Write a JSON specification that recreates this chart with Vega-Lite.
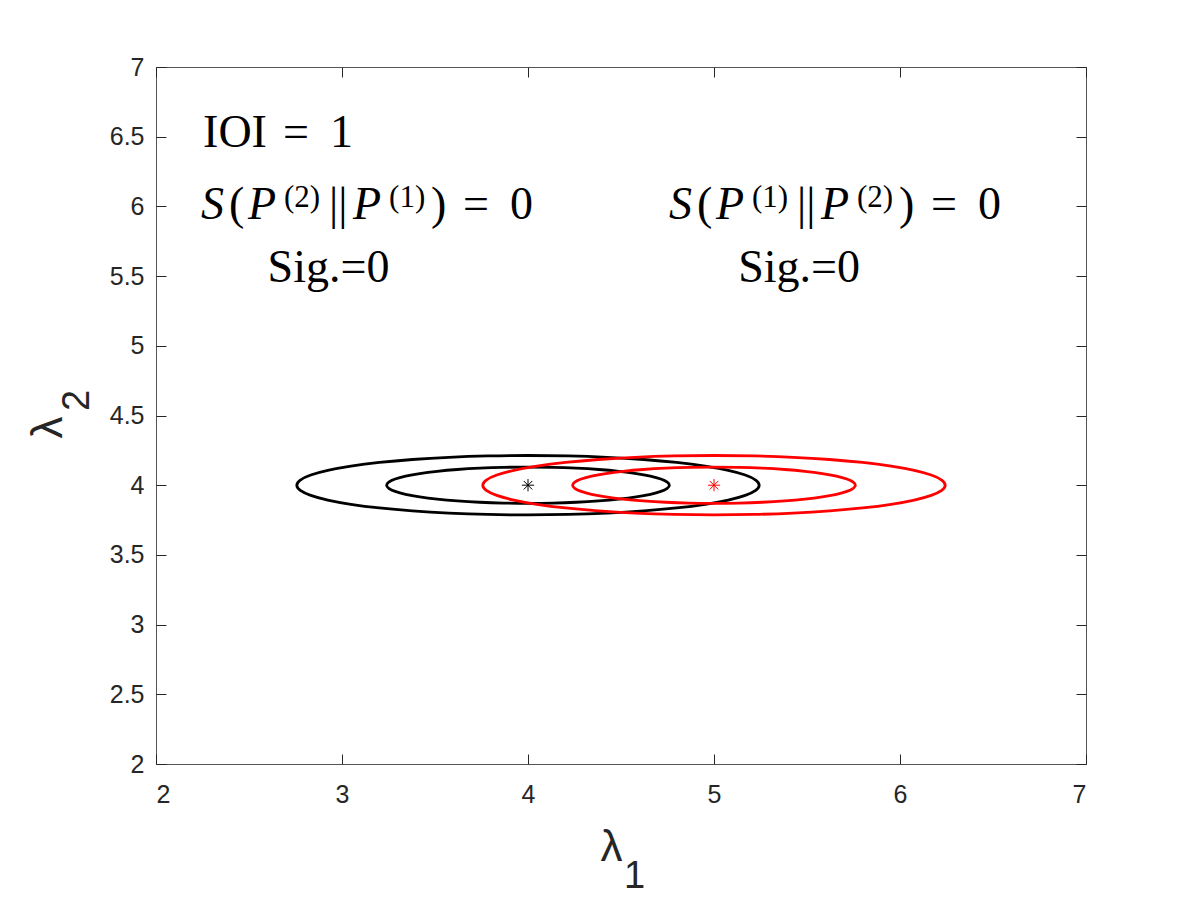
{
  "$schema": "https://vega.github.io/schema/vega-lite/v6.json",
  "autosize": "none",
  "width": 930,
  "height": 697,
  "padding": {"left": 156, "top": 67, "right": 114, "bottom": 136},
  "background": "white",
  "config": {
    "view": {"stroke": "#555555", "strokeWidth": 1},
    "axis": {"domain": false, "grid": false, "tickColor": "#262626", "tickWidth": 1, "labelColor": "#262626", "labelFont": "Liberation Sans", "labelFontSize": 25, "titleColor": "#262626", "titleFont": "Liberation Sans", "titleFontWeight": "normal"}
  },
  "resolve": {"axis": {"x": "independent", "y": "independent"}},
  "layer": [
    {
      "data": {"values": [
        {"e":"k1","c":"black","i":0,"x":5.243,"y":4},
        {"e":"k1","c":"black","i":1,"x":5.2241,"y":4.037},
        {"e":"k1","c":"black","i":2,"x":5.168,"y":4.0729},
        {"e":"k1","c":"black","i":3,"x":5.0765,"y":4.1065},
        {"e":"k1","c":"black","i":4,"x":4.9522,"y":4.1369},
        {"e":"k1","c":"black","i":5,"x":4.799,"y":4.1632},
        {"e":"k1","c":"black","i":6,"x":4.6215,"y":4.1845},
        {"e":"k1","c":"black","i":7,"x":4.4251,"y":4.2002},
        {"e":"k1","c":"black","i":8,"x":4.2158,"y":4.2098},
        {"e":"k1","c":"black","i":9,"x":4,"y":4.213},
        {"e":"k1","c":"black","i":10,"x":3.7842,"y":4.2098},
        {"e":"k1","c":"black","i":11,"x":3.5749,"y":4.2002},
        {"e":"k1","c":"black","i":12,"x":3.3785,"y":4.1845},
        {"e":"k1","c":"black","i":13,"x":3.201,"y":4.1632},
        {"e":"k1","c":"black","i":14,"x":3.0478,"y":4.1369},
        {"e":"k1","c":"black","i":15,"x":2.9235,"y":4.1065},
        {"e":"k1","c":"black","i":16,"x":2.832,"y":4.0729},
        {"e":"k1","c":"black","i":17,"x":2.7759,"y":4.037},
        {"e":"k1","c":"black","i":18,"x":2.757,"y":4},
        {"e":"k1","c":"black","i":19,"x":2.7759,"y":3.963},
        {"e":"k1","c":"black","i":20,"x":2.832,"y":3.9271},
        {"e":"k1","c":"black","i":21,"x":2.9235,"y":3.8935},
        {"e":"k1","c":"black","i":22,"x":3.0478,"y":3.8631},
        {"e":"k1","c":"black","i":23,"x":3.201,"y":3.8368},
        {"e":"k1","c":"black","i":24,"x":3.3785,"y":3.8155},
        {"e":"k1","c":"black","i":25,"x":3.5749,"y":3.7998},
        {"e":"k1","c":"black","i":26,"x":3.7842,"y":3.7902},
        {"e":"k1","c":"black","i":27,"x":4,"y":3.787},
        {"e":"k1","c":"black","i":28,"x":4.2158,"y":3.7902},
        {"e":"k1","c":"black","i":29,"x":4.4251,"y":3.7998},
        {"e":"k1","c":"black","i":30,"x":4.6215,"y":3.8155},
        {"e":"k1","c":"black","i":31,"x":4.799,"y":3.8368},
        {"e":"k1","c":"black","i":32,"x":4.9522,"y":3.8631},
        {"e":"k1","c":"black","i":33,"x":5.0765,"y":3.8935},
        {"e":"k1","c":"black","i":34,"x":5.168,"y":3.9271},
        {"e":"k1","c":"black","i":35,"x":5.2241,"y":3.963},
        {"e":"k2","c":"black","i":0,"x":4.76,"y":4},
        {"e":"k2","c":"black","i":1,"x":4.7485,"y":4.0226},
        {"e":"k2","c":"black","i":2,"x":4.7142,"y":4.0445},
        {"e":"k2","c":"black","i":3,"x":4.6582,"y":4.065},
        {"e":"k2","c":"black","i":4,"x":4.5822,"y":4.0836},
        {"e":"k2","c":"black","i":5,"x":4.4885,"y":4.0996},
        {"e":"k2","c":"black","i":6,"x":4.38,"y":4.1126},
        {"e":"k2","c":"black","i":7,"x":4.2599,"y":4.1222},
        {"e":"k2","c":"black","i":8,"x":4.132,"y":4.128},
        {"e":"k2","c":"black","i":9,"x":4,"y":4.13},
        {"e":"k2","c":"black","i":10,"x":3.868,"y":4.128},
        {"e":"k2","c":"black","i":11,"x":3.7401,"y":4.1222},
        {"e":"k2","c":"black","i":12,"x":3.62,"y":4.1126},
        {"e":"k2","c":"black","i":13,"x":3.5115,"y":4.0996},
        {"e":"k2","c":"black","i":14,"x":3.4178,"y":4.0836},
        {"e":"k2","c":"black","i":15,"x":3.3418,"y":4.065},
        {"e":"k2","c":"black","i":16,"x":3.2858,"y":4.0445},
        {"e":"k2","c":"black","i":17,"x":3.2515,"y":4.0226},
        {"e":"k2","c":"black","i":18,"x":3.24,"y":4},
        {"e":"k2","c":"black","i":19,"x":3.2515,"y":3.9774},
        {"e":"k2","c":"black","i":20,"x":3.2858,"y":3.9555},
        {"e":"k2","c":"black","i":21,"x":3.3418,"y":3.935},
        {"e":"k2","c":"black","i":22,"x":3.4178,"y":3.9164},
        {"e":"k2","c":"black","i":23,"x":3.5115,"y":3.9004},
        {"e":"k2","c":"black","i":24,"x":3.62,"y":3.8874},
        {"e":"k2","c":"black","i":25,"x":3.7401,"y":3.8778},
        {"e":"k2","c":"black","i":26,"x":3.868,"y":3.872},
        {"e":"k2","c":"black","i":27,"x":4,"y":3.87},
        {"e":"k2","c":"black","i":28,"x":4.132,"y":3.872},
        {"e":"k2","c":"black","i":29,"x":4.2599,"y":3.8778},
        {"e":"k2","c":"black","i":30,"x":4.38,"y":3.8874},
        {"e":"k2","c":"black","i":31,"x":4.4885,"y":3.9004},
        {"e":"k2","c":"black","i":32,"x":4.5822,"y":3.9164},
        {"e":"k2","c":"black","i":33,"x":4.6582,"y":3.935},
        {"e":"k2","c":"black","i":34,"x":4.7142,"y":3.9555},
        {"e":"k2","c":"black","i":35,"x":4.7485,"y":3.9774},
        {"e":"r1","c":"red","i":0,"x":6.243,"y":4},
        {"e":"r1","c":"red","i":1,"x":6.2241,"y":4.037},
        {"e":"r1","c":"red","i":2,"x":6.168,"y":4.0729},
        {"e":"r1","c":"red","i":3,"x":6.0765,"y":4.1065},
        {"e":"r1","c":"red","i":4,"x":5.9522,"y":4.1369},
        {"e":"r1","c":"red","i":5,"x":5.799,"y":4.1632},
        {"e":"r1","c":"red","i":6,"x":5.6215,"y":4.1845},
        {"e":"r1","c":"red","i":7,"x":5.4251,"y":4.2002},
        {"e":"r1","c":"red","i":8,"x":5.2158,"y":4.2098},
        {"e":"r1","c":"red","i":9,"x":5,"y":4.213},
        {"e":"r1","c":"red","i":10,"x":4.7842,"y":4.2098},
        {"e":"r1","c":"red","i":11,"x":4.5749,"y":4.2002},
        {"e":"r1","c":"red","i":12,"x":4.3785,"y":4.1845},
        {"e":"r1","c":"red","i":13,"x":4.201,"y":4.1632},
        {"e":"r1","c":"red","i":14,"x":4.0478,"y":4.1369},
        {"e":"r1","c":"red","i":15,"x":3.9235,"y":4.1065},
        {"e":"r1","c":"red","i":16,"x":3.832,"y":4.0729},
        {"e":"r1","c":"red","i":17,"x":3.7759,"y":4.037},
        {"e":"r1","c":"red","i":18,"x":3.757,"y":4},
        {"e":"r1","c":"red","i":19,"x":3.7759,"y":3.963},
        {"e":"r1","c":"red","i":20,"x":3.832,"y":3.9271},
        {"e":"r1","c":"red","i":21,"x":3.9235,"y":3.8935},
        {"e":"r1","c":"red","i":22,"x":4.0478,"y":3.8631},
        {"e":"r1","c":"red","i":23,"x":4.201,"y":3.8368},
        {"e":"r1","c":"red","i":24,"x":4.3785,"y":3.8155},
        {"e":"r1","c":"red","i":25,"x":4.5749,"y":3.7998},
        {"e":"r1","c":"red","i":26,"x":4.7842,"y":3.7902},
        {"e":"r1","c":"red","i":27,"x":5,"y":3.787},
        {"e":"r1","c":"red","i":28,"x":5.2158,"y":3.7902},
        {"e":"r1","c":"red","i":29,"x":5.4251,"y":3.7998},
        {"e":"r1","c":"red","i":30,"x":5.6215,"y":3.8155},
        {"e":"r1","c":"red","i":31,"x":5.799,"y":3.8368},
        {"e":"r1","c":"red","i":32,"x":5.9522,"y":3.8631},
        {"e":"r1","c":"red","i":33,"x":6.0765,"y":3.8935},
        {"e":"r1","c":"red","i":34,"x":6.168,"y":3.9271},
        {"e":"r1","c":"red","i":35,"x":6.2241,"y":3.963},
        {"e":"r2","c":"red","i":0,"x":5.76,"y":4},
        {"e":"r2","c":"red","i":1,"x":5.7485,"y":4.0226},
        {"e":"r2","c":"red","i":2,"x":5.7142,"y":4.0445},
        {"e":"r2","c":"red","i":3,"x":5.6582,"y":4.065},
        {"e":"r2","c":"red","i":4,"x":5.5822,"y":4.0836},
        {"e":"r2","c":"red","i":5,"x":5.4885,"y":4.0996},
        {"e":"r2","c":"red","i":6,"x":5.38,"y":4.1126},
        {"e":"r2","c":"red","i":7,"x":5.2599,"y":4.1222},
        {"e":"r2","c":"red","i":8,"x":5.132,"y":4.128},
        {"e":"r2","c":"red","i":9,"x":5,"y":4.13},
        {"e":"r2","c":"red","i":10,"x":4.868,"y":4.128},
        {"e":"r2","c":"red","i":11,"x":4.7401,"y":4.1222},
        {"e":"r2","c":"red","i":12,"x":4.62,"y":4.1126},
        {"e":"r2","c":"red","i":13,"x":4.5115,"y":4.0996},
        {"e":"r2","c":"red","i":14,"x":4.4178,"y":4.0836},
        {"e":"r2","c":"red","i":15,"x":4.3418,"y":4.065},
        {"e":"r2","c":"red","i":16,"x":4.2858,"y":4.0445},
        {"e":"r2","c":"red","i":17,"x":4.2515,"y":4.0226},
        {"e":"r2","c":"red","i":18,"x":4.24,"y":4},
        {"e":"r2","c":"red","i":19,"x":4.2515,"y":3.9774},
        {"e":"r2","c":"red","i":20,"x":4.2858,"y":3.9555},
        {"e":"r2","c":"red","i":21,"x":4.3418,"y":3.935},
        {"e":"r2","c":"red","i":22,"x":4.4178,"y":3.9164},
        {"e":"r2","c":"red","i":23,"x":4.5115,"y":3.9004},
        {"e":"r2","c":"red","i":24,"x":4.62,"y":3.8874},
        {"e":"r2","c":"red","i":25,"x":4.7401,"y":3.8778},
        {"e":"r2","c":"red","i":26,"x":4.868,"y":3.872},
        {"e":"r2","c":"red","i":27,"x":5,"y":3.87},
        {"e":"r2","c":"red","i":28,"x":5.132,"y":3.872},
        {"e":"r2","c":"red","i":29,"x":5.2599,"y":3.8778},
        {"e":"r2","c":"red","i":30,"x":5.38,"y":3.8874},
        {"e":"r2","c":"red","i":31,"x":5.4885,"y":3.9004},
        {"e":"r2","c":"red","i":32,"x":5.5822,"y":3.9164},
        {"e":"r2","c":"red","i":33,"x":5.6582,"y":3.935},
        {"e":"r2","c":"red","i":34,"x":5.7142,"y":3.9555},
        {"e":"r2","c":"red","i":35,"x":5.7485,"y":3.9774}
      ]},
      "mark": {"type": "line", "interpolate": "cardinal-closed", "strokeWidth": 2.8},
      "encoding": {
        "x": {"field": "x", "type": "quantitative", "scale": {"domain": [2, 7], "nice": false, "zero": false},
              "axis": {"orient": "bottom", "values": [2,3,4,5,6,7], "format": "~g", "tickSize": -10, "labelPadding": 28,
                       "title": "λ", "titleFontSize": 44, "titleX": 455, "titleY": 83, "titleAlign": "center", "titleBaseline": "middle"}},
        "y": {"field": "y", "type": "quantitative", "scale": {"domain": [2, 7], "nice": false, "zero": false},
              "axis": {"orient": "left", "values": [2,2.5,3,3.5,4,4.5,5,5.5,6,6.5,7], "format": "~g", "tickSize": -10, "labelPadding": 22,
                       "title": "λ", "titleFontSize": 44, "titleAngle": -90, "titleX": -108, "titleY": 360, "titleAlign": "center", "titleBaseline": "middle"}},
        "color": {"field": "c", "type": "nominal", "scale": {"domain": ["black", "red"], "range": ["#000000", "#ff0000"]}, "legend": null},
        "detail": {"field": "e"},
        "order": {"field": "i", "type": "quantitative"}
      }
    },
    {
      "data": {"values": [{"x": 4, "y": 4, "c": "black"}, {"x": 5, "y": 4, "c": "red"}]},
      "mark": {"type": "point", "filled": false, "strokeWidth": 1, "size": 150, "opacity": 1,
               "shape": "M0,-1L0,1M-1,0L1,0M-0.7,-0.7L0.7,0.7M-0.7,0.7L0.7,-0.7"},
      "encoding": {
        "x": {"field": "x", "type": "quantitative", "scale": {"domain": [2, 7], "nice": false, "zero": false},
              "axis": {"orient": "top", "values": [2,3,4,5,6,7], "labels": false, "tickSize": -10, "title": null}},
        "y": {"field": "y", "type": "quantitative", "scale": {"domain": [2, 7], "nice": false, "zero": false},
              "axis": {"orient": "right", "values": [2,2.5,3,3.5,4,4.5,5,5.5,6,6.5,7], "labels": false, "tickSize": -10, "title": null}},
        "color": {"field": "c", "type": "nominal", "scale": {"domain": ["black", "red"], "range": ["#000000", "#ff0000"]}, "legend": null}
      }
    },
    {
      "data": {"values": [
        {"x": 2.253, "y": 6.426, "t": "IOI"},
        {"x": 2.683, "y": 6.426, "t": "="},
        {"x": 2.935, "y": 6.426, "t": "1"},
        {"x": 2.392, "y": 5.91, "t": "("},
        {"x": 2.93, "y": 5.91, "t": "||"},
        {"x": 3.478, "y": 5.91, "t": ")"},
        {"x": 3.651, "y": 5.91, "t": "="},
        {"x": 3.903, "y": 5.91, "t": "0"},
        {"x": 4.908, "y": 5.91, "t": "("},
        {"x": 5.446, "y": 5.91, "t": "||"},
        {"x": 5.994, "y": 5.91, "t": ")"},
        {"x": 6.167, "y": 5.91, "t": "="},
        {"x": 6.419, "y": 5.91, "t": "0"},
        {"x": 2.6, "y": 5.458, "t": "Sig.=0"},
        {"x": 5.13, "y": 5.458, "t": "Sig.=0"}
      ]},
      "mark": {"type": "text", "font": "Liberation Serif", "fontSize": 46, "align": "left", "baseline": "alphabetic", "color": "#000000"},
      "encoding": {
        "x": {"field": "x", "type": "quantitative", "scale": {"domain": [2, 7], "nice": false, "zero": false},
              "axis": {"orient": "bottom", "labels": false, "ticks": false, "title": "1", "titleFontSize": 38, "titleX": 478, "titleY": 112, "titleAlign": "center", "titleBaseline": "middle"}},
        "y": {"field": "y", "type": "quantitative", "scale": {"domain": [2, 7], "nice": false, "zero": false},
              "axis": {"orient": "left", "labels": false, "ticks": false, "title": "2", "titleFontSize": 38, "titleAngle": -90, "titleX": -79, "titleY": 333, "titleAlign": "center", "titleBaseline": "middle"}},
        "text": {"field": "t", "type": "nominal"}
      }
    },
    {
      "data": {"values": [
        {"x": 2.242, "y": 5.91, "t": "S"},
        {"x": 2.495, "y": 5.91, "t": "P"},
        {"x": 3.059, "y": 5.91, "t": "P"},
        {"x": 4.758, "y": 5.91, "t": "S"},
        {"x": 5.011, "y": 5.91, "t": "P"},
        {"x": 5.575, "y": 5.91, "t": "P"}
      ]},
      "mark": {"type": "text", "font": "Liberation Serif", "fontSize": 46, "fontStyle": "italic", "align": "left", "baseline": "alphabetic", "color": "#000000"},
      "encoding": {
        "x": {"field": "x", "type": "quantitative", "scale": {"domain": [2, 7], "nice": false, "zero": false}, "axis": null},
        "y": {"field": "y", "type": "quantitative", "scale": {"domain": [2, 7], "nice": false, "zero": false}, "axis": null},
        "text": {"field": "t", "type": "nominal"}
      }
    },
    {
      "data": {"values": [
        {"x": 2.688, "y": 5.996, "t": "(2)"},
        {"x": 3.253, "y": 5.996, "t": "(1)"},
        {"x": 5.204, "y": 5.996, "t": "(1)"},
        {"x": 5.769, "y": 5.996, "t": "(2)"}
      ]},
      "mark": {"type": "text", "font": "Liberation Serif", "fontSize": 31, "align": "left", "baseline": "alphabetic", "color": "#000000"},
      "encoding": {
        "x": {"field": "x", "type": "quantitative", "scale": {"domain": [2, 7], "nice": false, "zero": false}, "axis": null},
        "y": {"field": "y", "type": "quantitative", "scale": {"domain": [2, 7], "nice": false, "zero": false}, "axis": null},
        "text": {"field": "t", "type": "nominal"}
      }
    }
  ]
}
